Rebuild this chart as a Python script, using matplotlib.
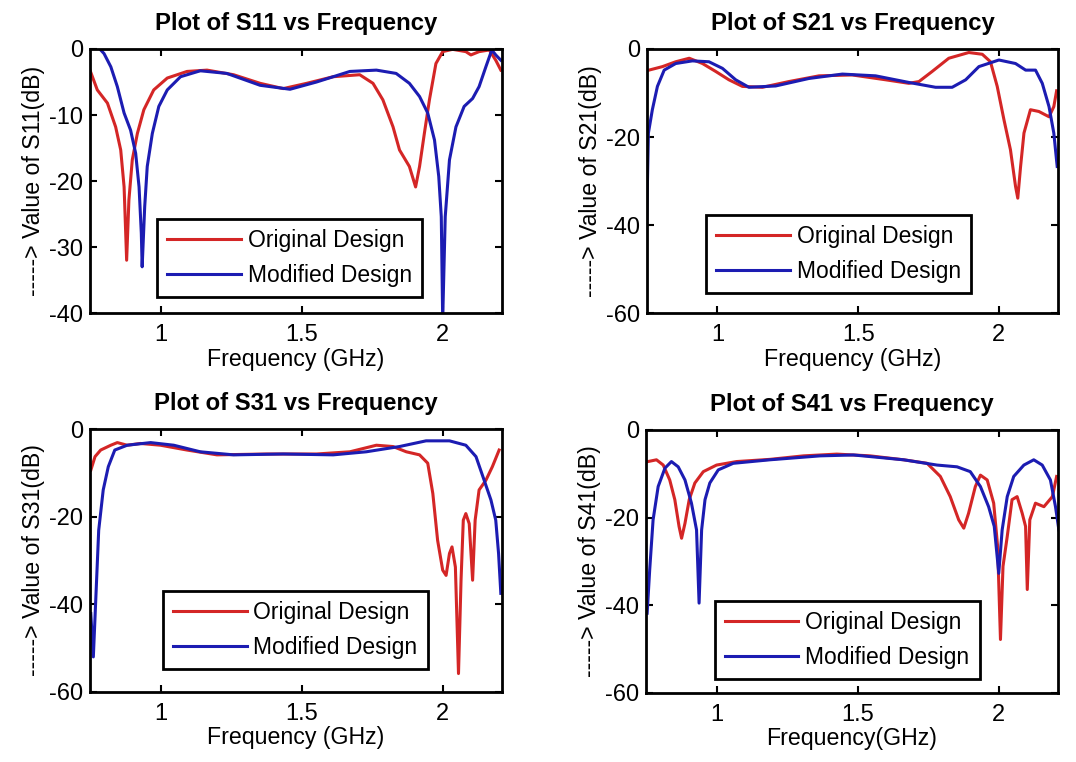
import matplotlib
matplotlib.use("Agg")
import matplotlib.pyplot as plt

plt.rcParams['font.family'] = ['Liberation Sans', 'DejaVu Sans']
plt.rcParams['axes.unicode_minus'] = False

# ---------------- data ----------------
# S11
s11_orig_f = [0.75, 0.776, 0.812, 0.841, 0.859, 0.871, 0.880, 0.888, 0.900, 0.918, 0.941, 0.976,
              1.024, 1.094, 1.165, 1.259, 1.353, 1.435, 1.518, 1.612, 1.706, 1.753, 1.788, 1.824,
              1.847, 1.882, 1.904, 1.918, 1.935, 1.953, 1.976, 2.000, 2.035, 2.082, 2.100, 2.129,
              2.165, 2.188, 2.206]
s11_orig_v = [-3.2, -6.2, -8.2, -11.8, -15.3, -20.9, -32.0, -22.9, -16.8, -12.8, -9.2, -6.2,
              -4.4, -3.4, -3.2, -3.9, -5.2, -6.0, -5.2, -4.2, -3.9, -5.2, -7.7, -11.8,
              -15.3, -17.8, -20.9, -17.8, -12.8, -7.7, -2.2, -0.4, -0.05, -0.4, -0.9, -0.4,
              -0.15, -1.7, -3.2]
s11_mod_f = [0.785, 0.800, 0.824, 0.847, 0.871, 0.894, 0.912, 0.924, 0.932, 0.935, 0.944, 0.953,
             0.971, 0.994, 1.024, 1.071, 1.141, 1.235, 1.353, 1.459, 1.553, 1.671, 1.765, 1.835,
             1.882, 1.918, 1.947, 1.971, 1.986, 1.995, 2.000, 2.009, 2.024, 2.047, 2.076, 2.106,
             2.129, 2.153, 2.174, 2.188, 2.206]
s11_mod_v = [0.0, -0.7, -2.7, -5.7, -9.7, -12.3, -15.8, -20.9, -27.9, -33.0, -23.9, -17.8,
             -12.8, -8.7, -6.2, -4.2, -3.3, -3.7, -5.5, -6.1, -5.0, -3.4, -3.2, -3.7,
             -5.2, -7.2, -9.7, -13.8, -19.3, -25.4, -41.0, -25.4, -16.8, -11.8, -8.7, -7.5,
             -5.7, -2.7, -0.15, -0.9, -1.7]

# S21
s21_orig_f = [0.751, 0.805, 0.852, 0.900, 0.947, 0.994, 1.041, 1.089, 1.160, 1.254, 1.361, 1.479,
              1.598, 1.680, 1.716, 1.763, 1.822, 1.893, 1.941, 1.970, 1.994, 2.018, 2.041, 2.059,
              2.067, 2.077, 2.089, 2.112, 2.142, 2.178, 2.195, 2.205]
s21_orig_v = [-4.9, -4.0, -2.9, -2.1, -3.3, -5.1, -7.0, -8.5, -8.7, -7.4, -6.1, -5.9,
              -7.0, -7.8, -7.4, -5.1, -2.1, -0.8, -1.2, -2.9, -8.5, -16.1, -22.9, -31.2,
              -33.9, -26.7, -19.1, -13.8, -14.2, -15.4, -13.1, -9.5]
s21_mod_f = [0.749, 0.755, 0.769, 0.787, 0.811, 0.852, 0.911, 0.970, 1.018, 1.065, 1.112, 1.207,
             1.325, 1.444, 1.562, 1.680, 1.775, 1.834, 1.882, 1.929, 2.000, 2.059, 2.095, 2.130,
             2.154, 2.178, 2.195, 2.207]
s21_mod_v = [-38.8, -19.1, -13.8, -8.5, -4.8, -3.3, -2.7, -2.9, -4.4, -7.0, -8.7, -8.4,
             -6.7, -5.7, -6.1, -7.6, -8.7, -8.7, -7.0, -4.0, -2.5, -3.3, -4.8, -4.8,
             -7.8, -13.1, -19.1, -26.7]

# S31
s31_orig_f = [0.753, 0.768, 0.788, 0.824, 0.847, 0.882, 0.929, 1.000, 1.094, 1.200, 1.376, 1.553,
              1.671, 1.765, 1.824, 1.871, 1.918, 1.947, 1.965, 1.982, 2.000, 2.012, 2.024, 2.033,
              2.045, 2.056, 2.065, 2.073, 2.082, 2.094, 2.106, 2.115, 2.129, 2.153, 2.176, 2.200]
s31_orig_v = [-9.4, -6.3, -4.8, -3.7, -3.1, -3.7, -3.3, -3.7, -4.8, -5.9, -5.7, -5.7,
              -5.2, -3.7, -4.0, -5.2, -5.9, -7.8, -14.7, -25.4, -32.2, -33.4, -28.4, -26.9,
              -31.5, -55.8, -34.5, -20.8, -19.3, -21.6, -34.5, -20.8, -13.9, -11.7, -8.6, -4.8]
s31_mod_f = [0.753, 0.762, 0.771, 0.781, 0.797, 0.815, 0.838, 0.882, 0.965, 1.047, 1.141, 1.259,
             1.435, 1.612, 1.729, 1.847, 1.941, 2.024, 2.082, 2.118, 2.147, 2.171, 2.188, 2.198,
             2.206]
s31_mod_v = [-42.1, -52.0, -38.3, -23.1, -13.9, -8.6, -4.8, -3.7, -3.1, -3.7, -5.2, -5.9,
             -5.7, -5.9, -5.2, -4.0, -2.7, -2.7, -3.7, -6.3, -11.7, -16.2, -20.8, -28.4,
             -37.5]

# S41
s41_orig_f = [0.757, 0.787, 0.811, 0.834, 0.852, 0.867, 0.876, 0.888, 0.903, 0.923, 0.953, 1.000,
              1.071, 1.189, 1.308, 1.426, 1.544, 1.663, 1.746, 1.793, 1.828, 1.858, 1.876, 1.893,
              1.917, 1.935, 1.959, 1.982, 1.996, 2.006, 2.015, 2.030, 2.047, 2.065, 2.083, 2.095,
              2.101, 2.110, 2.130, 2.160, 2.190, 2.205]
s41_orig_v = [-7.2, -6.8, -8.0, -11.4, -15.9, -22.0, -24.7, -21.3, -15.9, -12.1, -9.5, -8.0,
              -7.2, -6.7, -5.9, -5.5, -5.9, -6.8, -7.6, -10.6, -15.2, -20.5, -22.4, -19.0,
              -12.9, -10.3, -11.4, -16.7, -26.6, -47.8, -31.1, -24.3, -15.9, -15.2, -19.0, -22.0,
              -36.4, -20.5, -16.7, -17.5, -15.2, -10.6]
s41_mod_f = [0.754, 0.763, 0.775, 0.793, 0.817, 0.840, 0.864, 0.888, 0.911, 0.929, 0.938, 0.947,
             0.959, 0.976, 1.006, 1.059, 1.189, 1.367, 1.485, 1.663, 1.781, 1.852, 1.899, 1.935,
             1.964, 1.984, 2.000, 2.012, 2.030, 2.053, 2.089, 2.124, 2.154, 2.183, 2.201, 2.213]
s41_mod_v = [-41.8, -31.9, -20.5, -12.9, -8.7, -7.2, -8.4, -11.4, -16.7, -22.8, -39.5, -22.8,
             -15.9, -12.1, -9.1, -7.6, -6.8, -5.9, -5.7, -6.8, -8.0, -8.4, -9.5, -12.9,
             -17.5, -22.0, -32.7, -22.8, -15.2, -10.6, -8.0, -6.8, -8.0, -11.4, -17.5, -22.8]

titles = ["Plot of S11 vs Frequency", "Plot of S21 vs Frequency",
          "Plot of S31 vs Frequency", "Plot of S41 vs Frequency"]
ylabels = ["-----> Value of S11(dB)", "-----> Value of S21(dB)",
           "-----> Value of S31(dB)", "-----> Value of S41(dB)"]
xlabels = ["Frequency (GHz)", "Frequency (GHz)", "Frequency (GHz)", "Frequency(GHz)"]
series_names = ["Original Design", "Modified Design"]
xticks = [1, 1.5, 2]
xtick_labels = ["1", "1.5", "2"]
yticks_s11 = [0, -10, -20, -30, -40]
yticks_other = [0, -20, -40, -60]

# ---------------- layout / style ----------------
RED = "#d42626"
BLUE = "#1c1cb2"
fig = plt.figure(figsize=(10.76, 7.62), dpi=100)
positions = [
    [0.0836, 0.5892, 0.3829, 0.3465],
    [0.6013, 0.5892, 0.3820, 0.3465],
    [0.0836, 0.0919, 0.3829, 0.3451],
    [0.6004, 0.0906, 0.3829, 0.3451],
]
legend_anchor = [(0.163, 0.06), (0.144, 0.076), (0.177, 0.087), (0.167, 0.053)]

curves = [
    (s11_orig_f, s11_orig_v, s11_mod_f, s11_mod_v),
    (s21_orig_f, s21_orig_v, s21_mod_f, s21_mod_v),
    (s31_orig_f, s31_orig_v, s31_mod_f, s31_mod_v),
    (s41_orig_f, s41_orig_v, s41_mod_f, s41_mod_v),
]

for i in range(4):
    ax = fig.add_axes(positions[i])
    of, ov, mf, mv = curves[i]
    ax.plot(of, ov, color=RED, lw=2.2, label=series_names[0])
    ax.plot(mf, mv, color=BLUE, lw=2.2, label=series_names[1])
    ax.set_xlim(0.75, 2.21)
    if i == 0:
        ax.set_ylim(-40, 0)
        ax.set_yticks(yticks_s11)
    else:
        ax.set_ylim(-60, 0)
        ax.set_yticks(yticks_other)
    ax.set_xticks(xticks)
    ax.set_xticklabels(xtick_labels)
    ax.tick_params(direction='in', length=5, width=1.5, top=True, right=True,
                   labelsize=17, colors='black')
    ax.tick_params(axis='x', pad=8)
    ax.tick_params(axis='y', pad=5)
    for sp in ax.spines.values():
        sp.set_linewidth(2)
        sp.set_color('black')
    ax.set_title(titles[i], fontsize=17.2, fontweight='bold', pad=14)
    ax.set_xlabel(xlabels[i], fontsize=16.7, labelpad=1)
    ax.set_ylabel(ylabels[i], fontsize=16.7, labelpad=3)
    leg = ax.legend(loc='lower left', bbox_to_anchor=legend_anchor[i], borderaxespad=0,
                    fontsize=16.5, handlelength=3.2, handletextpad=0.3, labelspacing=0.5,
                    borderpad=0.45, fancybox=False, framealpha=1, edgecolor='black')
    leg.get_frame().set_linewidth(2)

fig.savefig("out.png", dpi=100)
